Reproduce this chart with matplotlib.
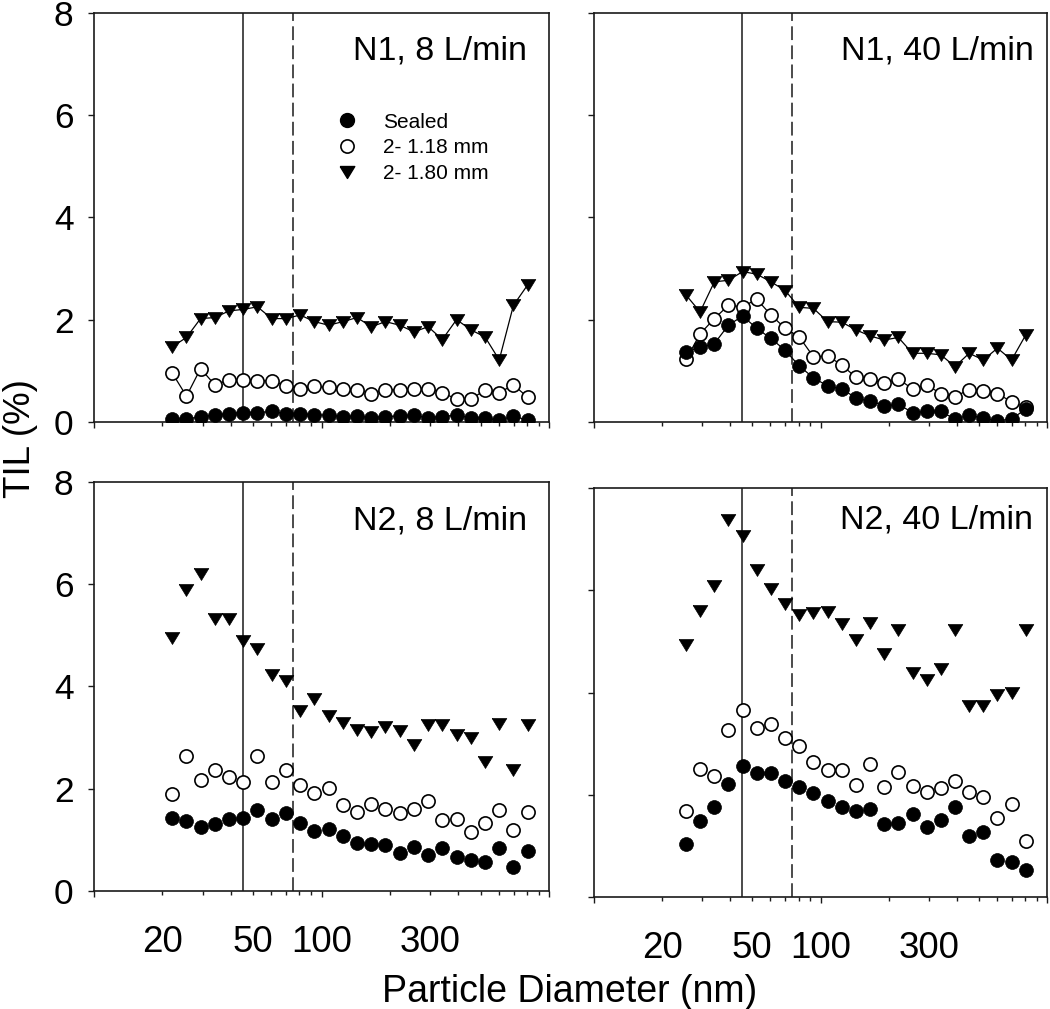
import matplotlib
matplotlib.use('Agg')
import matplotlib.pyplot as plt
from matplotlib.lines import Line2D
from matplotlib.ticker import FixedLocator, FixedFormatter

plt.rcParams['font.family'] = ['Liberation Sans', 'DejaVu Sans']

# ---------------- data ----------------
diam_8 = [22.1, 25.5, 29.4, 34.0, 39.2, 45.3, 52.3, 60.4, 69.8, 80.6, 93.1, 107.5, 124.1,
          143.3, 165.5, 191.1, 220.7, 254.8, 294.3, 339.8, 392.4, 453.2, 523.3, 604.3,
          697.8, 805.8]
diam_40 = [25.5, 29.4, 34.0, 39.2, 45.3, 52.3, 60.4, 69.8, 80.6, 93.1, 107.5, 124.1,
           143.3, 165.5, 191.1, 220.7, 254.8, 294.3, 339.8, 392.4, 453.2, 523.3, 604.3,
           697.8, 805.8]

n1_8_sealed = [0.05, 0.05, 0.10, 0.13, 0.16, 0.18, 0.18, 0.20, 0.16, 0.16, 0.13, 0.13, 0.10,
               0.11, 0.08, 0.10, 0.11, 0.13, 0.08, 0.10, 0.13, 0.08, 0.07, 0.03, 0.11, 0.03]
n1_8_118 = [0.95, 0.50, 1.04, 0.72, 0.82, 0.82, 0.80, 0.80, 0.70, 0.65, 0.69, 0.67, 0.65,
            0.63, 0.55, 0.63, 0.62, 0.65, 0.65, 0.57, 0.44, 0.44, 0.62, 0.57, 0.72, 0.48]
n1_8_180 = [1.47, 1.65, 2.02, 2.04, 2.17, 2.20, 2.25, 2.02, 2.02, 2.09, 1.96, 1.89, 1.96,
            2.04, 1.86, 1.96, 1.89, 1.76, 1.86, 1.61, 2.00, 1.80, 1.66, 1.21, 2.28, 2.68]

n1_40_sealed = [1.36, 1.46, 1.53, 1.89, 2.07, 1.83, 1.63, 1.40, 1.09, 0.86, 0.70, 0.65, 0.46,
                0.41, 0.31, 0.34, 0.18, 0.20, 0.20, 0.05, 0.13, 0.07, 0.02, 0.05, 0.25]
n1_40_118 = [1.22, 1.72, 2.02, 2.28, 2.25, 2.40, 2.09, 1.83, 1.66, 1.27, 1.29, 1.11, 0.87,
             0.84, 0.75, 0.84, 0.64, 0.72, 0.55, 0.49, 0.63, 0.61, 0.55, 0.39, 0.28]
n1_40_180 = [2.48, 2.15, 2.74, 2.77, 2.94, 2.89, 2.74, 2.57, 2.24, 2.22, 1.96, 1.95, 1.80,
             1.68, 1.60, 1.65, 1.34, 1.34, 1.31, 1.08, 1.34, 1.21, 1.44, 1.21, 1.70]

n2_8_sealed = [1.43, 1.37, 1.26, 1.31, 1.41, 1.43, 1.58, 1.41, 1.52, 1.33, 1.18, 1.22, 1.08,
               0.94, 0.92, 0.90, 0.75, 0.86, 0.71, 0.84, 0.66, 0.60, 0.57, 0.84, 0.47, 0.78]
n2_8_118 = [1.90, 2.63, 2.16, 2.37, 2.22, 2.14, 2.64, 2.14, 2.37, 2.08, 1.91, 2.01, 1.68,
            1.54, 1.70, 1.60, 1.52, 1.60, 1.76, 1.38, 1.41, 1.16, 1.33, 1.58, 1.19, 1.55]
n2_8_180 = [4.95, 5.89, 6.20, 5.32, 5.32, 4.88, 4.73, 4.23, 4.10, 3.52, 3.75, 3.43, 3.28,
            3.14, 3.10, 3.20, 3.12, 2.86, 3.24, 3.25, 3.04, 2.99, 2.52, 3.27, 2.37, 3.25]

n2_40_sealed = [1.03, 1.48, 1.76, 2.21, 2.56, 2.43, 2.43, 2.27, 2.16, 2.04, 1.87, 1.76, 1.69,
                1.73, 1.42, 1.44, 1.63, 1.37, 1.50, 1.76, 1.20, 1.28, 0.72, 0.68, 0.52]
n2_40_118 = [1.69, 2.50, 2.36, 3.27, 3.65, 3.30, 3.38, 3.11, 2.96, 2.65, 2.49, 2.49, 2.19,
             2.60, 2.15, 2.45, 2.18, 2.06, 2.13, 2.26, 2.05, 1.95, 1.54, 1.81, 1.10]
n2_40_180 = [4.92, 5.59, 6.09, 7.38, 7.06, 6.40, 6.02, 5.74, 5.52, 5.55, 5.57, 5.34, 5.03,
             5.36, 4.75, 5.23, 4.39, 4.24, 4.45, 5.23, 3.73, 3.74, 3.96, 4.00, 5.23]

series_labels = ['Sealed', '2- 1.18 mm', '2- 1.80 mm']
panel_titles = ['N1, 8 L/min', 'N1, 40 L/min', 'N2, 8 L/min', 'N2, 40 L/min']
vline_solid = 45
vline_dashed = 75
y_ticks = [0, 2, 4, 6, 8]
x_major = [10, 100, 1000]
x_major_labels = ['', '100', '']
x_minor = [20, 30, 40, 50, 60, 70, 80, 90, 200, 300, 400, 500, 600, 700, 800, 900]
x_minor_labels = ['20', '', '', '50', '', '', '', '', '', '300', '', '', '', '', '', '']

# ---------------- figure ----------------
W, H = 1050, 1009
fig = plt.figure(figsize=(W / 100, H / 100), dpi=100)


def px_axes(x0, y0, x1, y1):
    return fig.add_axes([x0 / W, 1 - y1 / H, (x1 - x0) / W, (y1 - y0) / H])


ax_tl = px_axes(94, 13.3, 549, 421.7)
ax_tr = px_axes(594, 13.3, 1047, 421.7)
ax_bl = px_axes(94, 481.7, 549, 891)
ax_br = px_axes(594, 488, 1047, 897)

tri = [(-1, 0.82), (1, 0.82), (0, -0.82), (-1, 0.82)]
ink = '#1a1a1a'

panels = [
    (ax_tl, diam_8, n1_8_sealed, n1_8_118, n1_8_180, True, panel_titles[0], (0.952, 0.887)),
    (ax_tr, diam_40, n1_40_sealed, n1_40_118, n1_40_180, True, panel_titles[1], (0.970, 0.887)),
    (ax_bl, diam_8, n2_8_sealed, n2_8_118, n2_8_180, False, panel_titles[2], (0.952, 0.884)),
    (ax_br, diam_40, n2_40_sealed, n2_40_118, n2_40_180, False, panel_titles[3], (0.970, 0.901)),
]

for i, (ax, xd, ys, yo, yt, lines, title, tpos) in enumerate(panels):
    ls = '-' if lines else 'none'
    ax.set_xscale('log')
    ax.axvline(vline_solid, color=ink, lw=1.1, zorder=1)
    ax.axvline(vline_dashed, color=ink, lw=1.1, ls=(0, (9, 3.5)), zorder=1)
    ax.plot(xd, yt, ls=ls, color='k', lw=0.9, marker=tri, ms=10.5,
            mfc='k', mec='k', mew=0.5, zorder=3)
    ax.plot(xd, yo, ls=ls, color='k', lw=0.9, marker='o', ms=9.5,
            mfc='white', mec='k', mew=1.2, zorder=4)
    ax.plot(xd, ys, ls=ls, color='k', lw=0.9, marker='o', ms=10,
            mfc='k', mec='k', mew=0.5, zorder=5)
    ax.set_xlim(10, 1000)
    ax.set_ylim(0, 8)
    ax.set_yticks(y_ticks)
    ax.xaxis.set_major_locator(FixedLocator(x_major))
    ax.xaxis.set_minor_locator(FixedLocator(x_minor))
    ax.yaxis.set_minor_locator(FixedLocator([]))
    bottom = i >= 2
    left = i % 2 == 0
    if bottom:
        ax.xaxis.set_major_formatter(FixedFormatter(x_major_labels))
        ax.xaxis.set_minor_formatter(FixedFormatter(x_minor_labels))
    else:
        ax.xaxis.set_major_formatter(FixedFormatter(['', '', '']))
        ax.xaxis.set_minor_formatter(FixedFormatter([''] * len(x_minor)))
    if left:
        ax.set_yticklabels([str(v) for v in y_ticks])
    else:
        ax.set_yticklabels([''] * len(y_ticks))
    ax.tick_params(axis='x', which='major', direction='out', length=4.3, width=1.0,
                   color=ink, labelsize=26.5, pad=20.5, top=False)
    ax.tick_params(axis='x', which='minor', direction='out', length=2.9, width=1.0,
                   color=ink, labelsize=26.5, pad=21.9, top=False)
    ax.tick_params(axis='y', which='major', direction='out', length=4.3, width=1.0,
                   color=ink, labelsize=25.5, pad=10.5, right=False)
    for sp in ax.spines.values():
        sp.set_linewidth(1.2)
        sp.set_color(ink)
    ax.text(tpos[0], tpos[1], title, transform=ax.transAxes, ha='right',
            va='baseline', fontsize=24.5, color='k')

handles = [
    Line2D([], [], ls='none', marker='o', ms=10, mfc='k', mec='k'),
    Line2D([], [], ls='none', marker='o', ms=9.5, mfc='white', mec='k', mew=1.2),
    Line2D([], [], ls='none', marker=tri, ms=10.5, mfc='k', mec='k'),
]
ax_tl.legend(handles, series_labels, loc='upper left', bbox_to_anchor=(0.5325, 0.757),
             frameon=False, fontsize=15, handlelength=1.0, handletextpad=1.25,
             labelspacing=0.32, borderpad=0, borderaxespad=0)

fig.text(570 / W, 1 - 1002 / H, 'Particle Diameter (nm)', ha='center', va='baseline',
         fontsize=27)
fig.text(21 / W, 1 - 439 / H, 'TIL (%)', ha='center', va='center', rotation=90,
         fontsize=26.5)

fig.savefig('out.png', dpi=100)
